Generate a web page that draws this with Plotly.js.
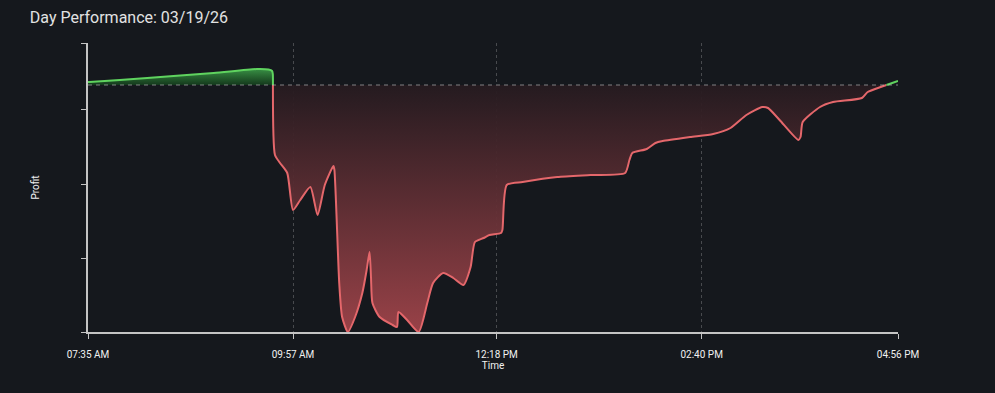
<!DOCTYPE html>
<html>
<head>
<meta charset="utf-8">
<script src="https://cdn.plot.ly/plotly-3.0.1.min.js"></script>
<style>html,body{margin:0;padding:0;background:#15181d;}#chart{width:995px;height:393px;}</style>
</head>
<body>
<div id="chart"></div>
<script>
const day = '2026-03-19 ';
// Positive segment at open
const greenOpenTimes = ['07:35:00','07:36:00','08:16:00','09:02:00','09:32:00','09:40:00','09:42:30','09:43:00','09:43:05'];
const greenOpenProfit = [30, 30, 70, 120, 160, 155, 140, 110, 0];
// Negative segment
const redTimes = ['09:43:05','09:44:30','09:48:00','09:53:00','09:57:00','10:02:00','10:09:00','10:14:00','10:19:00','10:25:00','10:25:40',
  '10:29:00','10:31:00','10:35:00','10:40:00','10:45:00','10:48:00','10:50:00','10:51:00','10:52:00','10:57:00','11:06:00','11:09:00','11:10:00',
  '11:16:00','11:24:00','11:30:00','11:34:00','11:41:00','11:48:00','11:55:00','12:00:00','12:03:00','12:09:00','12:13:00','12:21:00','12:22:00',
  '12:25:00','12:36:00','13:00:00','13:23:00','13:47:00','13:50:00','13:52:00','14:02:00','14:08:00','14:13:00','14:32:00','14:48:00','15:00:00',
  '15:11:00','15:22:00','15:26:00','15:34:00','15:47:00','15:48:30','15:50:00','16:02:00','16:11:00','16:31:00','16:35:00','16:44:00','16:48:00'];
const redProfit = [0, -700, -780, -880, -1250, -1150, -1020, -1300, -1000, -810, -850,
  -1980, -2320, -2470, -2320, -2080, -1850, -1670, -1920, -2180, -2320, -2400, -2420, -2270,
  -2350, -2470, -2180, -1980, -1880, -1930, -2000, -1820, -1570, -1530, -1500, -1480, -1450,
  -1000, -970, -920, -900, -880, -750, -680, -640, -580, -560, -520, -490, -430,
  -300, -220, -230, -350, -550, -520, -370, -220, -170, -130, -70, -20, 0];
// Positive segment at close
const greenCloseTimes = ['16:48:00','16:52:00','16:56:00'];
const greenCloseProfit = [0, 20, 40];

const xTicks = ['07:35','09:57','12:18','14:40','16:56'];
const yTicks = [-2470, -1730, -990, -240, 420];

const toX = a => a.map(t => day + t);

const greenLine = '#5fd35f';
const redLine = '#e4676b';

const traces = [
  {x: toX(greenOpenTimes), y: greenOpenProfit, type: 'scatter', mode: 'lines',
   line: {color: greenLine, width: 2, shape: 'spline', smoothing: 0.6},
   fill: 'tozeroy',
   fillgradient: {type: 'vertical', start: 0, stop: 160,
     colorscale: [[0, 'rgba(20,60,28,0.9)'], [1, 'rgba(58,150,70,0.95)']]},
   hoverinfo: 'skip', showlegend: false},
  {x: toX(redTimes), y: redProfit, type: 'scatter', mode: 'lines',
   line: {color: redLine, width: 2, shape: 'spline', smoothing: 0.6},
   fill: 'tozeroy',
   fillgradient: {type: 'vertical', start: -2470, stop: 0,
     colorscale: [[0, 'rgba(160,68,74,0.95)'], [1, 'rgba(38,27,32,0.95)']]},
   hoverinfo: 'skip', showlegend: false},
  {x: toX(greenCloseTimes), y: greenCloseProfit, type: 'scatter', mode: 'lines',
   line: {color: greenLine, width: 2, shape: 'spline', smoothing: 0.6},
   hoverinfo: 'skip', showlegend: false}
];

const layout = {
  width: 995, height: 393,
  paper_bgcolor: '#15181d', plot_bgcolor: '#15181d',
  font: {family: 'Roboto, sans-serif', color: '#e6e6e6', size: 10},
  margin: {l: 88, r: 97, t: 43, b: 61},
  title: {text: 'Day Performance: 03/19/26', x: 0.03, xanchor: 'left', xref: 'container',
          y: 0.955, yanchor: 'middle', yref: 'container',
          font: {family: 'Roboto, sans-serif', size: 16, color: '#e2e2e2'}},
  xaxis: {type: 'date', range: [day + xTicks[0], day + xTicks[xTicks.length - 1]],
          tickvals: xTicks.map(t => day + t), tickformat: '%I:%M %p',
          showgrid: true, gridcolor: 'rgba(255,255,255,0.22)', griddash: 'dot', gridwidth: 1,
          showline: true, linecolor: '#c4c4c4', linewidth: 2,
          ticks: 'outside', ticklen: 5, tickcolor: '#c4c4c4', tickwidth: 1,
          ticklabelstandoff: 7,
          tickfont: {size: 10, color: '#f0f0f0'}, zeroline: false,
          title: {text: 'Time', standoff: 0, font: {size: 10, color: '#f0f0f0'}}},
  yaxis: {range: [yTicks[0], yTicks[yTicks.length - 1]], tickvals: yTicks, showticklabels: false,
          showgrid: false, zeroline: false,
          showline: true, linecolor: '#c4c4c4', linewidth: 2,
          ticks: 'outside', ticklen: 5, tickcolor: '#c4c4c4', tickwidth: 1,
          title: {text: 'Profit', standoff: 40, font: {size: 10, color: '#f0f0f0'}}},
  shapes: [{type: 'line', xref: 'paper', x0: 0, x1: 1, yref: 'y', y0: 0, y1: 0,
            line: {color: 'rgba(200,200,200,0.6)', width: 1, dash: '4px,4px'}, layer: 'above'}]
};

Plotly.newPlot('chart', traces, layout, {displayModeBar: false, staticPlot: true});
</script>
</body>
</html>
